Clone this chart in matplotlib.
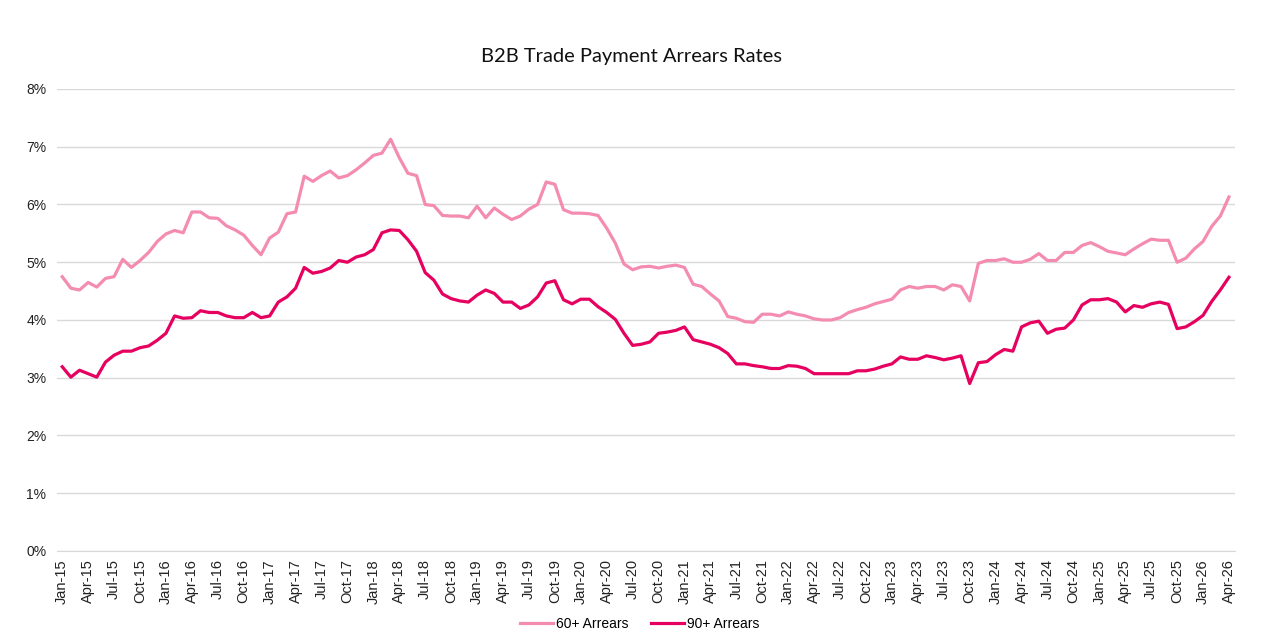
import pandas as pd
import matplotlib.pyplot as plt
from matplotlib.ticker import PercentFormatter

# ====== DATA (monthly, Jan-15 .. Apr-26, in %) ======
start_month = "2015-01"

arrears_60 = [
    4.75, 4.55, 4.52, 4.65, 4.57, 4.72, 4.75, 5.05, 4.91, 5.03, 5.17, 5.36,
    5.49, 5.55, 5.51, 5.87, 5.87, 5.77, 5.76, 5.63, 5.56, 5.47, 5.29, 5.13,
    5.42, 5.52, 5.84, 5.87, 6.49, 6.40, 6.50, 6.58, 6.46, 6.50, 6.60, 6.72,
    6.85, 6.89, 7.13, 6.81, 6.54, 6.50, 6.00, 5.98, 5.81, 5.80, 5.80, 5.77,
    5.97, 5.77, 5.94, 5.83, 5.74, 5.80, 5.92, 6.00, 6.39, 6.35, 5.91, 5.85,
    5.85, 5.84, 5.81, 5.59, 5.33, 4.97, 4.87, 4.92, 4.93, 4.90, 4.93, 4.95,
    4.91, 4.62, 4.58, 4.45, 4.33, 4.06, 4.03, 3.97, 3.96, 4.10, 4.10, 4.07,
    4.14, 4.10, 4.07, 4.02, 4.00, 4.00, 4.04, 4.13, 4.18, 4.22, 4.28, 4.32,
    4.36, 4.52, 4.58, 4.55, 4.58, 4.58, 4.52, 4.61, 4.58, 4.33, 4.98, 5.03,
    5.03, 5.06, 5.00, 5.00, 5.05, 5.15, 5.03, 5.03, 5.17, 5.17, 5.29, 5.34,
    5.27, 5.19, 5.16, 5.13, 5.23, 5.32, 5.40, 5.38, 5.38, 5.00, 5.07, 5.23,
    5.36, 5.62, 5.80, 6.13,
]

arrears_90 = [
    3.19, 3.01, 3.13, 3.07, 3.01, 3.27, 3.39, 3.46, 3.46, 3.52, 3.55, 3.65,
    3.77, 4.07, 4.03, 4.04, 4.16, 4.13, 4.13, 4.07, 4.04, 4.04, 4.13, 4.04,
    4.07, 4.31, 4.40, 4.55, 4.91, 4.81, 4.84, 4.90, 5.03, 5.00, 5.09, 5.13,
    5.22, 5.51, 5.56, 5.55, 5.39, 5.19, 4.82, 4.69, 4.45, 4.37, 4.33, 4.31,
    4.43, 4.52, 4.46, 4.31, 4.31, 4.20, 4.26, 4.40, 4.64, 4.68, 4.35, 4.28,
    4.36, 4.36, 4.23, 4.13, 4.01, 3.77, 3.56, 3.58, 3.62, 3.77, 3.79, 3.82,
    3.88, 3.66, 3.62, 3.58, 3.52, 3.42, 3.24, 3.24, 3.21, 3.19, 3.16, 3.16,
    3.21, 3.20, 3.16, 3.07, 3.07, 3.07, 3.07, 3.07, 3.12, 3.12, 3.15, 3.20,
    3.24, 3.36, 3.32, 3.32, 3.38, 3.35, 3.31, 3.34, 3.38, 2.90, 3.26, 3.28,
    3.40, 3.49, 3.46, 3.88, 3.95, 3.98, 3.77, 3.84, 3.86, 4.00, 4.26, 4.35,
    4.35, 4.37, 4.31, 4.14, 4.25, 4.22, 4.28, 4.31, 4.27, 3.85, 3.88, 3.97,
    4.08, 4.32, 4.52, 4.74,
]

months = pd.date_range(start_month, periods=len(arrears_60), freq="MS")
month_labels = months.strftime("%b-%y")

COLOR_60 = "#F48CB1"
COLOR_90 = "#E6005F"

# ====== CHART ======
plt.rcParams["font.family"] = ["Liberation Sans Narrow", "Liberation Sans", "DejaVu Sans"]

fig = plt.figure(figsize=(12.79, 6.43), dpi=100)
ax = fig.add_axes([0.0446, 0.1431, 0.921, 0.7185])

x = list(range(len(months)))
ax.plot(x, [v / 100 for v in arrears_60], color=COLOR_60, lw=2.3, label="60+ Arrears",
        solid_joinstyle="round")
ax.plot(x, [v / 100 for v in arrears_90], color=COLOR_90, lw=2.3, label="90+ Arrears",
        solid_joinstyle="round")

ax.set_ylim(0, 0.08)
ax.set_xlim(-0.6, len(months) - 0.3)
ax.yaxis.set_major_formatter(PercentFormatter(1.0, decimals=0))
ax.set_yticks([i / 100 for i in range(0, 9)])
ax.grid(axis="y", color="#D9D9D9", lw=1)
ax.set_axisbelow(True)

ax.set_xticks(x[::3])
ax.set_xticklabels(month_labels[::3], rotation=90, fontsize=10.5, color="#222222")
ax.tick_params(axis="y", labelsize=10, colors="#222222", length=0, pad=22)
ax.tick_params(axis="x", length=0, pad=6)
for side in ["top", "right", "left"]:
    ax.spines[side].set_visible(False)
ax.spines["bottom"].set_color("#D9D9D9")

for lbl in ax.get_yticklabels():
    lbl.set_family(["Liberation Sans", "DejaVu Sans"])
    lbl.set_horizontalalignment("left")

fig.suptitle("B2B Trade Payment Arrears Rates", x=0.494, y=0.925, fontsize=14.5,
             family=["Lato", "DejaVu Sans"], color="#111111")

fig.legend(loc="center", bbox_to_anchor=(0.5, 0.03), ncol=2, frameon=False,
           fontsize=10, handlelength=2.4, columnspacing=1.6, handletextpad=0.2)

plt.savefig("out.png", dpi=100)
